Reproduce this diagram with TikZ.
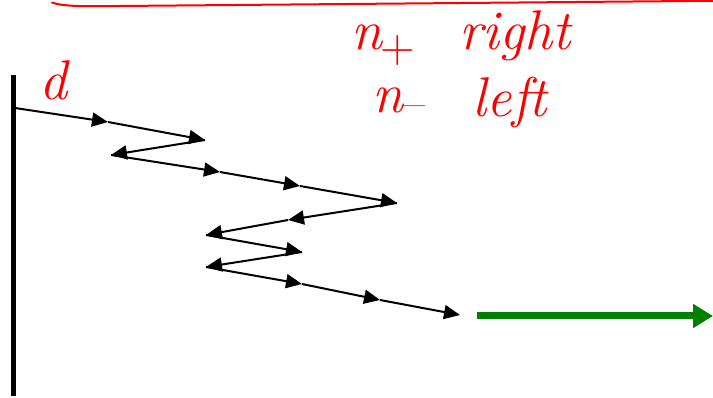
\documentclass[tikz,border=0pt]{standalone}
\usetikzlibrary{arrows.meta}
\definecolor{inkred}{RGB}{255,0,0}
\definecolor{inkgreen}{RGB}{0,128,0}
\newcommand{\subsign}[3]{\raisebox{#1}{\smash{\fontsize{#2}{#2}\selectfont\upshape #3}}}
\tikzset{
  ray/.style={line width=2pt,-{Triangle[length=16pt,width=14pt]}},
  wall/.style={line width=5pt},
  outarrow/.style={line width=7pt,inkgreen,-{Triangle[length=20pt,width=23pt]}},
  hand/.style={inkred,font=\fontsize{56}{56}\selectfont\itshape,inner sep=0pt},
  inkline/.style={inkred,line width=2pt,line cap=round}
}
\begin{document}
\begin{tikzpicture}[x=1pt,y=-1pt]
\useasboundingbox (0,0) rectangle (713,398);
% top red stroke
\draw[inkline] (52,2.5) .. controls (62,6.5) and (85,6.5) .. (120,6) -- (713,0.8);
% wall
\draw[wall] (13.5,75) -- (13.5,396);
% labels
\node[hand] (d) at (53,80) {d};
\node[hand] (np) at (383,44) {n\kern-2pt\subsign{-13pt}{48}{+}};
\node[hand] (right) at (515,36) {right};
\node[hand] (nm) at (399,104) {n\subsign{-7pt}{50}{\textendash}};
\node[hand] (left) at (510,103) {left};
% zigzag path points
\coordinate (p0) at (15,108);
\coordinate (a1) at (108,122);
\coordinate (p1) at (205,140);
\coordinate (p2) at (111,155);
\coordinate (a3) at (220,172);
\coordinate (a4) at (300,186);
\coordinate (p3) at (397,203);
\coordinate (a5) at (288,220);
\coordinate (p4) at (206,235);
\coordinate (p5) at (302,252);
\coordinate (p6) at (206,267);
\coordinate (a6) at (302,284);
\coordinate (a7) at (380,300);
\coordinate (p7) at (460,315);
\draw[ray] (p0) -- (a1);
\draw[ray] (a1) -- (p1);
\draw[ray] (p1) -- (p2);
\draw[ray] (p2) -- (a3);
\draw[ray] (a3) -- (a4);
\draw[ray] (a4) -- (p3);
\draw[ray] (p3) -- (a5);
\draw[ray] (a5) -- (p4);
\draw[ray] (p4) -- (p5);
\draw[ray] (p5) -- (p6);
\draw[ray] (p6) -- (a6);
\draw[ray] (a6) -- (a7);
\draw[ray] (a7) -- (p7);
% green outgoing arrow
\coordinate (g0) at (477,316);
\coordinate (g1) at (713,316);
\draw[outarrow] (g0) -- (g1);
\end{tikzpicture}
\end{document}
